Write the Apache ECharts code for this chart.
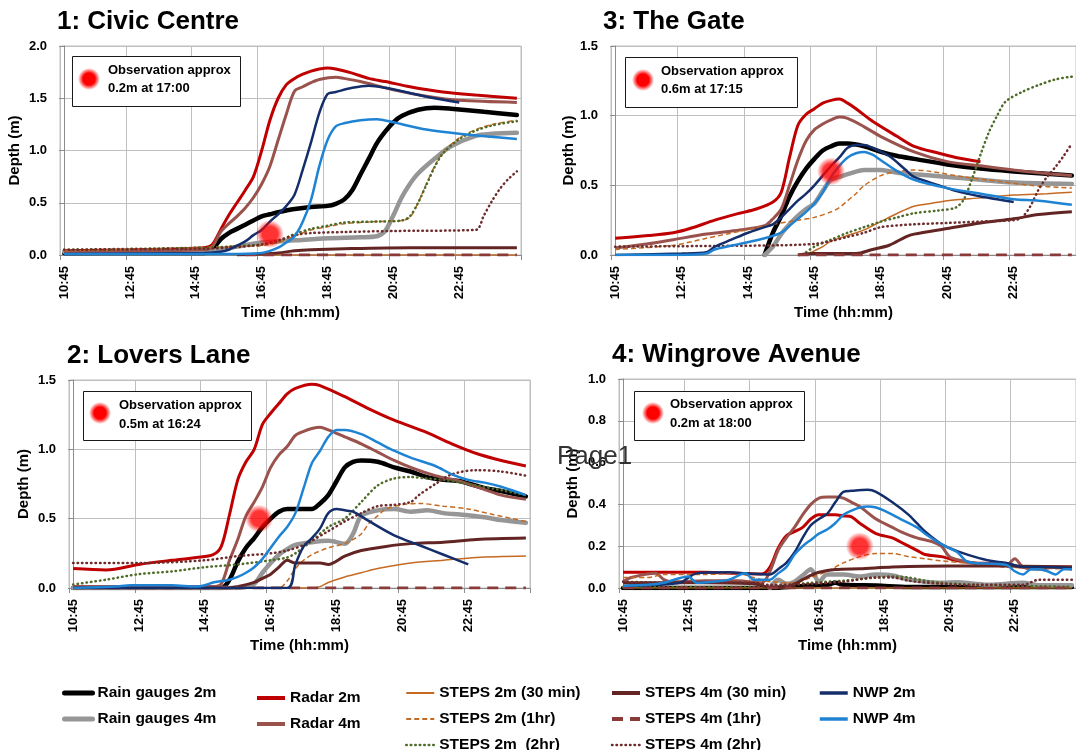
<!DOCTYPE html>
<html><head><meta charset="utf-8">
<script src="https://cdn.jsdelivr.net/npm/echarts@6/dist/echarts.min.js"></script>
<style>html,body{margin:0;padding:0;background:#fff}#c{width:1076px;height:750px}</style>
</head><body><div id="c"></div>
<script>
// ---------- categories (15-min steps) ----------
const timeLabels = ['10:45','11:00','11:15','11:30','11:45','12:00','12:15','12:30','12:45','13:00','13:15','13:30','13:45','14:00','14:15','14:30','14:45','15:00','15:15','15:30','15:45','16:00','16:15','16:30','16:45','17:00','17:15','17:30','17:45','18:00','18:15','18:30','18:45','19:00','19:15','19:30','19:45','20:00','20:15','20:30','20:45','21:00','21:15','21:30','21:45','22:00','22:15','22:30','22:45','23:00','23:15','23:30','23:45','00:00','00:15','00:30'];

const seriesNames = ['Rain gauges 2m','Rain gauges 4m','Radar 2m','Radar 4m','STEPS 2m (30 min)','STEPS 2m (1hr)','STEPS 2m  (2hr)','STEPS 4m (30 min)','STEPS 4m (1hr)','STEPS 4m (2hr)','NWP 2m','NWP 4m'];

// ---------- data: [category index, depth m] ----------
// 1: Civic Centre
const civicRain2 = [[0,0.02],[17,0.02],[18,0.05],[19,0.15],[20,0.21],[21,0.25],[22,0.29],[23,0.33],[24,0.37],[25,0.39],[26,0.41],[28,0.44],[30,0.46],[32,0.47],[33,0.49],[34,0.53],[35,0.62],[36,0.77],[37,0.92],[38,1.07],[39,1.18],[40,1.27],[41,1.33],[43,1.39],[45,1.41],[47,1.40],[51,1.37],[55,1.34]];
const civicRain4 = [[0,0.03],[17,0.03],[19,0.05],[21,0.08],[24,0.12],[28,0.14],[32,0.16],[36,0.17],[38,0.18],[39,0.23],[40,0.38],[41,0.55],[42,0.68],[43,0.78],[45,0.92],[47,1.04],[50,1.14],[52,1.16],[55,1.17]];
const civicRadar2 = [[0,0.04],[8,0.05],[17,0.07],[18,0.1],[19,0.24],[20,0.38],[21,0.5],[22,0.62],[23,0.75],[24,1.0],[25,1.29],[26,1.5],[27,1.63],[28,1.69],[29,1.73],[30,1.76],[31,1.78],[32,1.79],[33,1.78],[35,1.74],[37,1.69],[39,1.66],[42,1.61],[46,1.56],[50,1.53],[55,1.5]];
const civicRadar4 = [[0,0.03],[17,0.05],[18,0.08],[19,0.22],[20,0.3],[21,0.37],[22,0.45],[23,0.55],[24,0.68],[25,0.85],[26,1.1],[27,1.35],[28,1.57],[29,1.61],[30,1.65],[31,1.68],[33,1.7],[34,1.69],[36,1.66],[40,1.58],[44,1.52],[48,1.48],[55,1.46]];
const civicS2m30 = [[0,0.01],[20,0.01],[21,0.0],[55,0.0]];
const civicS2m1h = [[0,0.04],[17,0.07],[20,0.08],[24,0.09],[26,0.12],[28,0.18],[30,0.24],[32,0.27],[34,0.3],[38,0.32],[41,0.33],[42,0.36],[43,0.5],[44,0.68],[45,0.85],[46,0.98],[48,1.12],[50,1.2],[52,1.25],[55,1.29]];
const civicS2m2h = [[0,0.05],[17,0.07],[20,0.08],[24,0.1],[26,0.13],[28,0.2],[30,0.25],[32,0.28],[34,0.31],[38,0.32],[41,0.33],[42,0.37],[43,0.5],[44,0.67],[45,0.84],[46,0.97],[48,1.11],[50,1.19],[52,1.24],[55,1.28]];
const civicS4m30 = [[21,0.0],[24,0.01],[26,0.02],[28,0.04],[30,0.05],[34,0.06],[42,0.07],[55,0.07]];
const civicS4m1h = [[22,0.0],[55,0.0]];
const civicS4m2h = [[0,0.05],[17,0.06],[20,0.07],[24,0.1],[26,0.14],[28,0.19],[30,0.21],[34,0.22],[40,0.23],[50,0.24],[51,0.38],[52,0.52],[53,0.64],[54,0.73],[55,0.8]];
const civicNwp2 = [[0,0.01],[17,0.02],[19,0.03],[20,0.05],[21,0.09],[22,0.13],[23,0.19],[24,0.24],[25,0.32],[26,0.39],[27,0.47],[28,0.58],[29,0.82],[30,1.08],[31,1.36],[32,1.54],[33,1.56],[35,1.6],[37,1.62],[39,1.6],[42,1.55],[45,1.5],[48,1.46]];
const civicNwp4 = [[0,0.01],[20,0.01],[24,0.02],[25,0.04],[26,0.07],[27,0.12],[28,0.18],[29,0.32],[30,0.53],[31,0.85],[32,1.1],[33,1.23],[34,1.26],[36,1.29],[38,1.3],[40,1.27],[44,1.2],[48,1.16],[55,1.11]];

// 3: The Gate
const gateRain2 = [[18,0.0],[19,0.16],[20,0.28],[21,0.42],[22,0.53],[23,0.62],[24,0.69],[25,0.75],[26,0.78],[27,0.8],[28,0.8],[30,0.78],[32,0.74],[34,0.71],[36,0.69],[40,0.65],[44,0.62],[48,0.6],[55,0.57]];
const gateRain4 = [[18,0.0],[19,0.06],[20,0.15],[21,0.22],[22,0.28],[23,0.33],[24,0.37],[25,0.46],[26,0.54],[27,0.56],[28,0.58],[30,0.61],[32,0.61],[34,0.59],[36,0.58],[40,0.56],[44,0.54],[48,0.52],[55,0.51]];
const gateRadar2 = [[0,0.12],[4,0.14],[7,0.16],[9,0.19],[12,0.25],[15,0.3],[17,0.33],[19,0.38],[20,0.45],[21,0.7],[22,0.93],[23,1.01],[24,1.05],[25,1.09],[26,1.11],[27,1.12],[28,1.09],[29,1.05],[31,0.96],[34,0.85],[36,0.78],[39,0.73],[41,0.7],[44,0.67]];
const gateRadar4 = [[0,0.05],[4,0.08],[7,0.11],[11,0.15],[15,0.18],[18,0.21],[19,0.26],[20,0.33],[21,0.5],[22,0.68],[23,0.82],[24,0.9],[25,0.94],[26,0.97],[27,0.99],[28,0.98],[30,0.92],[32,0.85],[36,0.74],[40,0.67],[44,0.64],[48,0.61],[51,0.59],[55,0.57]];
const gateS2m30 = [[23,0.0],[24,0.03],[25,0.06],[26,0.1],[28,0.14],[30,0.18],[31,0.21],[32,0.24],[34,0.3],[36,0.35],[38,0.37],[40,0.39],[44,0.41],[48,0.43],[52,0.44],[55,0.45]];
const gateS2m1h = [[0,0.04],[7,0.07],[11,0.12],[15,0.17],[19,0.22],[22,0.25],[24,0.27],[26,0.31],[27,0.34],[28,0.39],[29,0.44],[30,0.5],[32,0.57],[34,0.6],[36,0.61],[38,0.6],[42,0.56],[46,0.53],[50,0.5],[55,0.48]];
const gateS2m2h = [[23,0.02],[24,0.06],[26,0.11],[28,0.16],[30,0.2],[32,0.24],[34,0.27],[36,0.3],[39,0.32],[41,0.34],[42,0.4],[43,0.55],[44,0.72],[45,0.88],[46,1.0],[47,1.1],[49,1.17],[51,1.22],[53,1.26],[55,1.28]];
const gateS4m30 = [[22,0.0],[24,0.01],[29,0.01],[31,0.04],[33,0.07],[35,0.13],[36,0.15],[40,0.19],[44,0.23],[48,0.26],[51,0.29],[55,0.31]];
const gateS4m1h = [[22,0.0],[55,0.0]];
const gateS4m2h = [[0,0.06],[12,0.065],[20,0.07],[24,0.08],[26,0.1],[28,0.13],[30,0.16],[32,0.2],[36,0.22],[40,0.23],[44,0.24],[48,0.25],[49,0.27],[50,0.35],[51,0.47],[52,0.56],[53,0.63],[54,0.71],[55,0.8]];
const gateNwp2 = [[0,0.0],[8,0.01],[11,0.02],[12,0.06],[14,0.11],[16,0.16],[18,0.2],[19,0.22],[20,0.27],[21,0.33],[22,0.39],[23,0.44],[24,0.5],[25,0.57],[26,0.64],[27,0.7],[28,0.77],[29,0.79],[30,0.79],[31,0.77],[33,0.71],[35,0.61],[36,0.56],[39,0.5],[41,0.46],[44,0.42],[46,0.4],[48,0.38]];
const gateNwp4 = [[0,0.0],[8,0.0],[11,0.01],[12,0.04],[15,0.08],[18,0.12],[20,0.16],[21,0.21],[23,0.31],[24,0.37],[25,0.45],[26,0.56],[27,0.64],[28,0.7],[29,0.73],[30,0.74],[31,0.72],[32,0.68],[34,0.6],[36,0.54],[40,0.48],[44,0.44],[48,0.4],[51,0.39],[55,0.36]];

// 2: Lovers Lane
const loversRain2 = [[0,0.0],[18,0.0],[19,0.06],[20,0.19],[21,0.29],[22,0.36],[23,0.44],[24,0.5],[25,0.55],[26,0.57],[29,0.57],[30,0.61],[31,0.67],[32,0.77],[33,0.87],[34,0.91],[35,0.92],[37,0.91],[39,0.87],[41,0.84],[43,0.8],[45,0.78],[47,0.77],[50,0.72],[52,0.7],[55,0.66]];
const loversRain4 = [[0,0.0],[20,0.0],[21,0.01],[22,0.03],[23,0.11],[24,0.18],[25,0.24],[26,0.28],[27,0.31],[29,0.33],[31,0.34],[33,0.32],[34,0.39],[35,0.52],[37,0.56],[39,0.57],[41,0.55],[43,0.56],[45,0.54],[47,0.53],[50,0.51],[52,0.49],[55,0.47]];
const loversRadar2 = [[0,0.14],[4,0.13],[8,0.17],[12,0.2],[15,0.22],[17,0.24],[18,0.3],[19,0.53],[20,0.78],[21,0.91],[22,1.0],[23,1.18],[24,1.26],[25,1.33],[26,1.4],[27,1.44],[29,1.47],[30,1.46],[33,1.38],[36,1.29],[39,1.21],[43,1.12],[46,1.04],[49,0.97],[52,0.92],[55,0.88]];
const loversRadar4 = [[0,0.01],[17,0.01],[18,0.03],[19,0.2],[20,0.35],[21,0.52],[22,0.62],[23,0.73],[24,0.87],[25,0.96],[26,1.02],[27,1.1],[28,1.13],[29,1.15],[30,1.16],[31,1.14],[33,1.09],[35,1.04],[37,0.98],[39,0.92],[41,0.87],[44,0.81],[47,0.77],[50,0.71],[52,0.67],[55,0.64]];
const loversS2m30 = [[0,0.0],[29,0.0],[30,0.01],[31,0.04],[33,0.08],[35,0.11],[37,0.14],[41,0.18],[45,0.2],[49,0.22],[55,0.23]];
const loversS2m1h = [[0,0.0],[25,0.0],[26,0.05],[27,0.14],[28,0.2],[29,0.24],[31,0.29],[33,0.32],[34,0.35],[35,0.39],[36,0.47],[37,0.52],[38,0.57],[40,0.6],[42,0.61],[45,0.59],[48,0.57],[51,0.53],[55,0.48]];
const loversS2m2h = [[0,0.025],[4,0.06],[8,0.1],[12,0.12],[16,0.15],[20,0.17],[24,0.2],[26,0.22],[27,0.25],[29,0.34],[31,0.44],[33,0.5],[35,0.62],[37,0.74],[39,0.79],[41,0.8],[43,0.79],[45,0.78],[49,0.74],[55,0.67]];
const loversS4m30 = [[0,0.0],[19,0.0],[20,0.01],[22,0.04],[23,0.07],[24,0.1],[25,0.15],[26,0.2],[27,0.18],[30,0.18],[31,0.17],[33,0.23],[35,0.27],[38,0.3],[41,0.32],[45,0.33],[49,0.35],[55,0.36]];
const loversS4m1h = [[0,0.0],[55,0.0]];
const loversS4m2h = [[0,0.18],[8,0.18],[16,0.2],[20,0.23],[24,0.25],[26,0.27],[28,0.31],[31,0.41],[33,0.48],[35,0.54],[37,0.59],[39,0.6],[41,0.62],[42,0.67],[44,0.75],[46,0.82],[49,0.85],[52,0.84],[55,0.81]];
const loversNwp2 = [[0,0.0],[26,0.0],[27,0.17],[28,0.3],[29,0.36],[30,0.43],[31,0.54],[32,0.57],[33,0.56],[34,0.55],[36,0.48],[39,0.38],[42,0.31],[45,0.24],[48,0.17]];
const loversNwp4 = [[0,0.0],[5,0.01],[7,0.02],[10,0.02],[12,0.02],[15,0.01],[16,0.02],[17,0.04],[18,0.05],[19,0.06],[20,0.08],[21,0.11],[22,0.15],[23,0.21],[24,0.29],[25,0.37],[26,0.44],[27,0.54],[28,0.72],[29,0.9],[30,0.99],[31,1.09],[32,1.14],[33,1.14],[35,1.11],[37,1.05],[39,0.99],[41,0.94],[44,0.88],[46,0.82],[48,0.78],[50,0.76],[52,0.73],[55,0.67]];

// 4: Wingrove Avenue
const wingRain2 = [[0,0.0],[18,0.0],[22,0.01],[25,0.015],[26,0.025],[27,0.015],[31,0.012],[35,0.005],[55,0.005]];
const wingRain4 = [[18,0.0],[19,0.04],[20,0.02],[21,0.03],[22,0.06],[23,0.09],[24,0.03],[25,0.065],[27,0.065],[29,0.055],[31,0.065],[33,0.06],[35,0.04],[37,0.03],[39,0.025],[41,0.028],[43,0.02],[45,0.015],[49,0.025],[51,0.013],[55,0.013]];
const wingRadar2 = [[0,0.075],[4,0.075],[10,0.075],[14,0.07],[17,0.067],[18,0.1],[19,0.19],[20,0.25],[21,0.27],[22,0.29],[23,0.33],[24,0.35],[26,0.35],[27,0.345],[28,0.34],[29,0.31],[31,0.26],[33,0.24],[34,0.22],[36,0.18],[37,0.16],[39,0.15],[41,0.13],[43,0.12],[47,0.115],[49,0.1],[55,0.1]];
const wingRadar4 = [[0,0.03],[1,0.05],[4,0.07],[5,0.04],[6,0.03],[10,0.035],[14,0.035],[17,0.025],[18,0.08],[19,0.18],[20,0.24],[21,0.29],[22,0.35],[23,0.4],[24,0.43],[25,0.435],[26,0.435],[27,0.43],[28,0.41],[29,0.39],[31,0.33],[33,0.29],[34,0.27],[36,0.24],[38,0.22],[39,0.2],[40,0.15],[41,0.135],[43,0.12],[47,0.11],[48,0.14],[49,0.1],[51,0.09],[53,0.1],[55,0.09]];
const wingS2m30 = [[0,0.0],[55,0.0]];
const wingS2m1h = [[0,0.05],[3,0.05],[5,0.065],[10,0.065],[14,0.07],[16,0.05],[18,0.03],[21,0.025],[23,0.05],[25,0.08],[27,0.12],[29,0.15],[31,0.165],[33,0.165],[35,0.15],[37,0.14],[39,0.13],[43,0.115],[47,0.1],[51,0.095],[55,0.09]];
const wingS2m2h = [[0,0.005],[18,0.005],[23,0.025],[27,0.035],[31,0.05],[33,0.055],[35,0.05],[37,0.035],[39,0.025],[43,0.015],[47,0.012],[55,0.005]];
const wingS4m30 = [[0,0.025],[10,0.025],[16,0.02],[18,0.005],[20,0.005],[21,0.02],[22,0.04],[23,0.06],[24,0.075],[26,0.088],[29,0.092],[33,0.1],[37,0.104],[43,0.105],[49,0.104],[55,0.1]];
const wingS4m1h = [[0,0.0],[55,0.0]];
const wingS4m2h = [[0,0.03],[6,0.025],[16,0.025],[18,0.015],[23,0.02],[27,0.03],[31,0.05],[33,0.05],[35,0.035],[39,0.02],[43,0.015],[49,0.015],[51,0.04],[55,0.04]];
const wingNwp2 = [[0,0.01],[4,0.015],[7,0.025],[8,0.05],[9,0.07],[13,0.075],[15,0.07],[18,0.065],[19,0.09],[20,0.12],[21,0.17],[22,0.24],[23,0.3],[24,0.33],[25,0.355],[26,0.41],[27,0.46],[28,0.465],[30,0.47],[31,0.46],[33,0.41],[35,0.35],[36,0.31],[37,0.27],[39,0.21],[41,0.175],[43,0.15],[45,0.13],[47,0.12],[49,0.1],[51,0.1],[55,0.095]];
const wingNwp4 = [[0,0.01],[3,0.015],[5,0.025],[8,0.055],[9,0.025],[11,0.03],[13,0.04],[15,0.07],[16,0.04],[18,0.04],[19,0.07],[20,0.1],[21,0.16],[22,0.2],[23,0.23],[24,0.26],[25,0.28],[26,0.31],[27,0.35],[28,0.37],[29,0.385],[30,0.39],[31,0.385],[32,0.37],[34,0.33],[36,0.29],[37,0.26],[39,0.21],[41,0.17],[42,0.13],[43,0.12],[47,0.11],[48,0.08],[49,0.065],[50,0.09],[51,0.09],[52,0.08],[53,0.065],[54,0.09],[55,0.09]];

// observations
const obsTimes = ['17:00','17:15','16:24','18:00'];
const obsDepths = [0.2, 0.6, 0.5, 0.2];
const panelTitles = ['1: Civic Centre','3: The Gate','2: Lovers Lane','4: Wingrove Avenue'];
const yMax = [2.0, 1.5, 1.5, 1.0];
const yStep = [0.5, 0.5, 0.5, 0.2];

// ---------- styling / layout ----------
const FONT = "'Liberation Sans', Arial, sans-serif";
const lineStyles = [
  {color:'#000000', width:4.5, cap:'round'},
  {color:'#969696', width:4.5, cap:'round'},
  {color:'#c00000', width:3},
  {color:'#9a524d', width:3},
  {color:'#c46a22', width:1.5},
  {color:'#c46a22', width:1.5, type:[5,3]},
  {color:'#4f6b28', width:2.5, type:[0.5,4], cap:'round'},
  {color:'#632523', width:3},
  {color:'#8b3a3a', width:3, type:[11,7]},
  {color:'#6e2b2b', width:2.5, type:[0.5,4], cap:'round'},
  {color:'#142e6b', width:2.5},
  {color:'#1f83d4', width:2.5}
];
const legendIconWidth = {'Rain gauges 2m':5,'Rain gauges 4m':5,'Radar 2m':4,'Radar 4m':4,'STEPS 2m (30 min)':2,'STEPS 2m (1hr)':2,'STEPS 2m  (2hr)':2.5,'STEPS 4m (30 min)':4,'STEPS 4m (1hr)':4,'STEPS 4m (2hr)':2.5,'NWP 2m':3.5,'NWP 4m':3.5};
const panelData = [
  [civicRain2,civicRain4,civicRadar2,civicRadar4,civicS2m30,civicS2m1h,civicS2m2h,civicS4m30,civicS4m1h,civicS4m2h,civicNwp2,civicNwp4],
  [gateRain2,gateRain4,gateRadar2,gateRadar4,gateS2m30,gateS2m1h,gateS2m2h,gateS4m30,gateS4m1h,gateS4m2h,gateNwp2,gateNwp4],
  [loversRain2,loversRain4,loversRadar2,loversRadar4,loversS2m30,loversS2m1h,loversS2m2h,loversS4m30,loversS4m1h,loversS4m2h,loversNwp2,loversNwp4],
  [wingRain2,wingRain4,wingRadar2,wingRadar4,wingS2m30,wingS2m1h,wingS2m2h,wingS4m30,wingS4m1h,wingS4m2h,wingNwp2,wingNwp4]
];
const grids = [
  {left:60, top:46, width:461, height:209},
  {left:611, top:46, width:467, height:209},
  {left:69, top:380, width:461, height:208},
  {left:619, top:379, width:467, height:209}
];
const yNameGap = [38, 30, 38, 39];
const titlePos = [[57,22],[603,22],[67,356],[612,355]];
const boxes = [
  {x:72, y:56, w:168, h:50, dot:[89,79], tx:108, ty:[70,88.5]},
  {x:625, y:57, w:172, h:50, dot:[643,80], tx:661, ty:[71,89]},
  {x:83, y:391, w:168, h:49, dot:[100,413], tx:119, ty:[405,424]},
  {x:634, y:391, w:170, h:49, dot:[653,413], tx:670, ty:[404.5,423.5]}
];
const legendCols = [
  {names:['Rain gauges 2m','Rain gauges 4m'], left:62, top:685},
  {names:['Radar 2m','Radar 4m'], left:255, top:690},
  {names:['STEPS 2m (30 min)','STEPS 2m (1hr)','STEPS 2m  (2hr)'], left:405, top:685},
  {names:['STEPS 4m (30 min)','STEPS 4m (1hr)','STEPS 4m (2hr)'], left:610, top:685},
  {names:['NWP 2m','NWP 4m'], left:818, top:685}
];

function glow(){
  return new echarts.graphic.RadialGradient(0.5,0.5,0.5,[
    {offset:0,color:'rgba(255,0,0,1)'},
    {offset:0.55,color:'rgba(255,0,0,1)'},
    {offset:1,color:'rgba(255,0,0,0)'}]);
}
function obsIndex(t){
  const [h,m] = t.split(':').map(Number);
  let mins = h*60+m; if (mins < 600) mins += 1440;
  return (mins - (10*60+45))/15;
}

const axisCol = '#8c8c8c', gridCol = '#bfbfbf';
const xAxes = [], yAxes = [], series = [], graphics = [];
grids.forEach((g,k)=>{
  xAxes.push({
    type:'category', gridIndex:k, data:timeLabels, boundaryGap:true,
    axisLine:{lineStyle:{color:axisCol}},
    axisTick:{show:true, interval:7, length:5, lineStyle:{color:axisCol}},
    axisLabel:{interval:7, rotate:90, margin:11, fontSize:13, fontWeight:'bold', color:'#000', fontFamily:FONT},
    splitLine:{show:true, interval:7, lineStyle:{color:gridCol, width:1}},
    name:'Time (hh:mm)', nameLocation:'middle', nameGap:50,
    nameTextStyle:{fontSize:15, fontWeight:'bold', color:'#000', fontFamily:FONT}
  });
  yAxes.push({
    type:'value', gridIndex:k, min:0, max:yMax[k], interval:yStep[k],
    axisLine:{show:true, lineStyle:{color:axisCol}},
    axisTick:{show:true, length:5, lineStyle:{color:axisCol}},
    axisLabel:{formatter:v=>v.toFixed(1), margin:13, fontSize:13, fontWeight:'bold', color:'#000', fontFamily:FONT},
    splitLine:{show:true, lineStyle:{color:gridCol, width:1}},
    name:'Depth (m)', nameLocation:'middle', nameGap:yNameGap[k],
    nameTextStyle:{fontSize:15, fontWeight:'bold', color:'#000', fontFamily:FONT}
  });
  panelData[k].forEach((arr,j)=>{
    const ls = lineStyles[j];
    series.push({
      type:'line', name:seriesNames[j], xAxisIndex:k, yAxisIndex:k,
      data:arr.map(([i,v])=>[timeLabels[i], v]),
      symbol:'none', smooth:0.3, silent:true, z:2+j*0.01,
      lineStyle:Object.assign({}, ls), itemStyle:{color:ls.color}
    });
  });
  series.push({
    type:'scatter', xAxisIndex:4+k, yAxisIndex:k, silent:true, z:10,
    data:[[obsIndex(obsTimes[k]), obsDepths[k]]],
    symbol:'circle', symbolSize:28, itemStyle:{color:glow()}
  });
  graphics.push({type:'text', x:titlePos[k][0], y:titlePos[k][1], z:20,
    style:{text:panelTitles[k], fill:'#000', font:"bold 26px "+FONT, verticalAlign:'middle'}});
  const b = boxes[k];
  graphics.push({type:'rect', shape:{x:b.x+0.5,y:b.y+0.5,width:b.w,height:b.h}, z:20,
    style:{fill:'#fff', stroke:'#1a1a1a', lineWidth:1}});
  graphics.push({type:'circle', shape:{cx:b.dot[0], cy:b.dot[1], r:11}, z:21, style:{fill:glow()}});
  graphics.push({type:'text', x:b.tx, y:b.ty[0], z:21,
    style:{text:'Observation approx', fill:'#000', font:"bold 13px "+FONT, verticalAlign:'middle'}});
  graphics.push({type:'text', x:b.tx, y:b.ty[1], z:21,
    style:{text:obsDepths[k].toFixed(1)+'m at '+obsTimes[k], fill:'#000', font:"bold 13px "+FONT, verticalAlign:'middle'}});
});
grids.forEach((g,k)=>{
  xAxes.push({type:'value', gridIndex:k, min:-0.5, max:55.5, show:false});
});
graphics.push({type:'text', x:557, y:457, z:30,
  style:{text:'Page1', fill:'#333', font:"26px "+FONT, verticalAlign:'middle'}});

const option = {
  animation:false,
  backgroundColor:'#fff',
  grid:grids.map(g=>Object.assign({show:true, borderColor:gridCol, borderWidth:1, containLabel:false}, g)),
  xAxis:xAxes, yAxis:yAxes, series:series,
  legend:legendCols.map(c=>({
    data:c.names.map(n=>({name:n, lineStyle:{width:legendIconWidth[n]}})),
    left:c.left, top:c.top, orient:'vertical', padding:0, height:80,
    itemWidth:28, itemHeight:14, itemGap:10, selectedMode:false,
    itemStyle:{opacity:0},
    textStyle:{fontSize:15.5, lineHeight:14, fontWeight:'bold', color:'#000', fontFamily:FONT}
  })),
  graphic:graphics
};
const chart = echarts.init(document.getElementById('c'), null, {renderer:'canvas'});
chart.setOption(option);
</script></body></html>
